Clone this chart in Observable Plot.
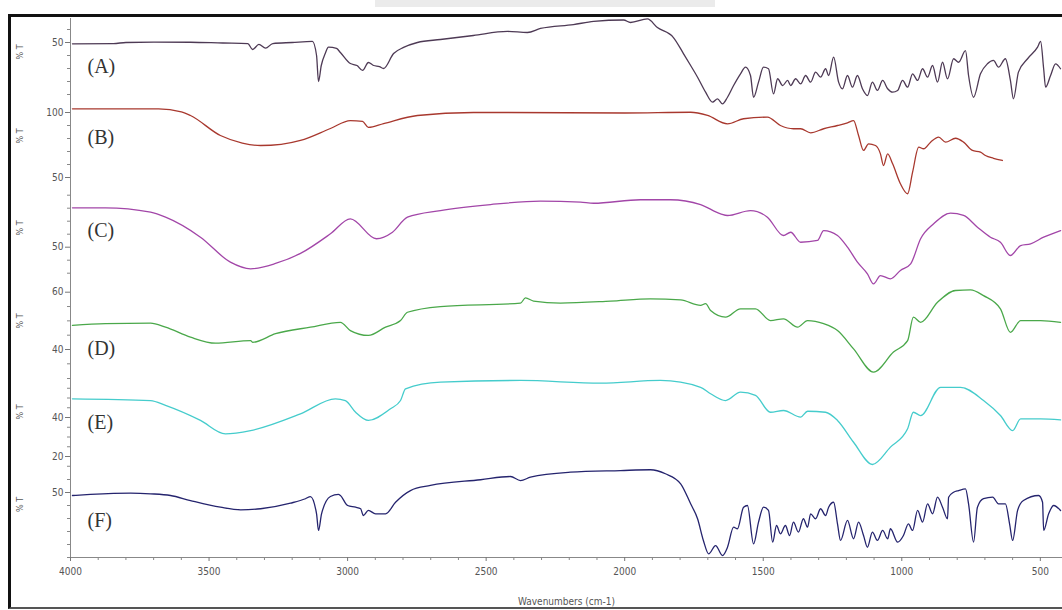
<!DOCTYPE html>
<html><head><meta charset="utf-8">
<script src="https://cdn.jsdelivr.net/npm/d3@7"></script>
<script src="https://cdn.jsdelivr.net/npm/@observablehq/plot@0.6"></script>
<style>
body{margin:0;background:#fff;}
#page{position:relative;width:1062px;height:610px;overflow:hidden;background:#fff;}
#frame{position:absolute;left:8px;top:14px;width:1080px;height:595px;border:3px solid #111;border-bottom:2px solid #555;box-sizing:border-box;}
#strip{position:absolute;left:375px;top:0;width:340px;height:7px;background:#ebebeb;}
.panel{position:absolute;left:0;}
svg{overflow:visible;}
</style></head>
<body><div id="page"><div id="strip"></div><div id="frame"></div></div>
<script>
// ---- data: wavenumber (cm-1) and %T per spectrum ----
const waveA = [3993,3845,3800,3700,3567,3450,3360,3343,3320,3296,3270,3200,3127,3112,3105,3095,3080,3069,3040,3026,2990,2966,2946,2925,2906,2885,2870,2834,2798,2748,2665,2546,2423,2351,2304,2185,2112,2004,1979,1918,1882,1824,1788,
  1762,1737,1708,1683,1665,1647,1629,1607,1582,1564,1546,1535,1517,1499,1481,1463,1448,1430,1412,1401,1383,1365,1347,1329,1311,1293,1275,1264,1246,1228,1214,1196,1178,1160,1142,1124,1106,1088,1069,1051,1033,1015,997,979,961,943,925,907,889,871,853,835,813,795,770,759,741,716,691,669,651,626,608,597,579,546,510,499,488,481,463,445,427];
const pctA = [49.0,49.2,50,50.3,50.2,49.6,49.2,44.6,48.5,45.6,49.2,50,50.8,40,20,32.3,42,46.4,45.4,42.3,33.8,32.3,28.5,34.6,32.3,31.5,30,41.5,46.2,50,52.3,55.4,58.5,57.7,60.8,63.8,66.2,67.3,65.4,68.1,61.5,53.8,41.5,
  32.3,23.3,11.8,4.1,6.7,2.8,7.9,16.9,25.9,31,24.6,7.9,19.5,31,29.8,10.5,22.1,16.9,20.8,16.9,22.1,18.2,24.6,19.5,27.2,23.3,29.8,24.6,38.7,19.5,14.4,24.6,15.6,24.6,14.4,9.2,19.5,13.1,20.8,14.4,11.8,13.1,20.8,15.6,25.9,20.8,29.8,23.3,32.3,19.5,34.8,22.1,37.5,34.8,43.8,24.6,7.9,25.9,33.6,36.2,31,37.5,20.8,6.7,27.2,37.5,46.4,50.8,29.8,15.6,24.6,33.6,29.8];

const waveB = [3993,3682,3600,3567,3459,3380,3314,3240,3170,3062,2990,2946,2925,2870,2748,2546,2423,2000,1762,1701,1629,1571,1485,1438,1391,1365,1329,1282,1232,1196,1174,1156,1138,1120,1095,1077,1066,1051,1033,1005,979,961,939,921,896,867,842,806,777,745,716,698,669,637];
const pctB = [102.8,102.8,100.5,97.7,82.3,76.5,74.6,75.5,78.5,87.7,93.8,93.1,88.5,91.5,97.7,100,100,99.6,100.2,97.7,91.3,95.2,96.4,90,87.5,87.5,84.4,87.5,90,92.1,93.8,82.3,70.8,75.9,74.6,68.2,59.2,68.2,60.5,45.2,37.5,54.1,73.3,72.1,77.2,81,77.2,80.2,77.2,70.8,69.5,66.9,64.8,63.1];

const waveC = [3993,3874,3711,3657,3531,3423,3350,3260,3170,3062,2990,2896,2838,2784,2665,2484,2304,2159,2112,1943,1835,1726,1654,1629,1546,1485,1427,1401,1365,1304,1282,1232,1196,1160,1124,1102,1077,1041,1005,968,932,885,824,777,727,680,644,608,571,535,488,427];
const pctC = [80.3,80.3,76.9,73.1,57.7,38.5,33.4,37.5,45.2,60.3,71.8,56.5,61.5,73.1,78.2,82.8,85.4,84.6,83.8,86.5,86.5,82.8,75.7,74.4,78.2,73.1,59,61.5,53.8,55.2,62.8,59,50,38.5,29.5,21.8,28.2,25.7,32.1,37.2,56.5,68,76.2,74.4,65.4,57.7,53.8,43.6,51.3,52.6,57.7,62.8];

const waveD = [3993,3874,3711,3657,3567,3477,3350,3343,3260,3134,3026,2990,2925,2863,2809,2784,2665,2376,2358,2329,2232,2051,1907,1798,1726,1708,1690,1636,1582,1528,1474,1427,1376,1340,1282,1232,1174,1102,1030,979,958,932,871,806,752,705,644,608,571,499,427];
const pctD = [48.4,49.0,49.2,47.8,44.3,42.2,43.1,42.5,45.5,47.8,49.5,46.6,44.9,47.8,50.1,53.0,55.0,56.2,58.0,56.9,56.2,56.9,57.7,57.3,55.4,56.0,53.6,51.3,54.2,54.2,50.1,50.7,47.8,50.1,49.0,46.6,40.2,32.1,39.1,43.1,51.3,49.5,56.5,60.6,60.8,58.8,54.2,46.0,50.1,50.1,49.5];

const waveE = [3993,3711,3657,3531,3441,3350,3170,3044,3008,2971,2925,2845,2809,2791,2665,2376,2087,1871,1726,1690,1636,1582,1528,1474,1427,1365,1340,1275,1232,1174,1106,1041,979,958,932,860,788,705,644,600,571,499,427];
const pctE = [49.6,48.7,46.2,38.5,31.6,33.3,41.9,49.6,48.7,42.7,38.5,44.5,48.7,54.7,58.1,59.0,57.6,59.0,55.5,52.2,48.7,53.0,51.3,42.7,43.6,40.2,43.2,42.7,38.5,27.3,15.9,24.8,34.2,42.7,41.0,55.5,55.5,48.7,41.0,33.3,39.3,39.3,38.8];

const waveF = [3993,3928,3783,3711,3639,3567,3459,3386,3314,3206,3152,3134,3112,3105,3094,3062,3033,3026,3000,2971,2953,2943,2925,2899,2863,2827,2773,2701,2520,2412,2376,2340,2196,2015,1907,1853,1798,
  1762,1737,1716,1697,1672,1647,1629,1607,1593,1571,1557,1535,1517,1499,1481,1466,1452,1438,1420,1405,1391,1373,1355,1340,1329,1311,1293,1275,1264,1246,1232,1221,1196,1174,1156,1138,1124,1106,1088,1069,1051,1041,1015,994,976,961,943,925,907,889,871,853,835,831,813,795,770,759,741,727,705,672,651,626,611,600,582,561,506,492,488,470,452,427];
const pctF = [47.7,48.5,49.5,49.0,47.7,43.8,38.7,36.7,37.5,41.8,45.2,46.9,33.6,20.8,33.6,46.9,48.5,47.7,40,38.7,37.5,32.3,36.2,33.6,33.6,42.5,51.5,55.4,59.8,62.3,59.2,61.8,65.6,66.9,67.5,64.4,56.7,
  41.3,29.8,13.1,2.8,9.2,1.5,7.9,23.3,22.1,38.7,40,10.5,27.2,38.7,36.2,11.8,24.6,18.2,24.6,16.9,27.2,19.5,29.8,23.3,33.6,29.8,37.5,32.3,38.7,42.5,25.9,13.1,28.5,14.4,27.2,16.9,7.9,19.5,13.1,20.8,14.4,22.1,11.8,16.9,25.9,20.8,36.2,27.2,41.3,33.6,46.4,38.7,29.8,46.4,50.2,51.5,52.8,41.3,11.8,38.7,45.2,46.4,41.3,41.3,25.9,13.1,36.2,43.8,47.7,42.5,20.8,33.6,40,36.2];

const seriesNames = ["A","B","C","D","E","F"];
const seriesWaves = [waveA,waveB,waveC,waveD,waveE,waveF];
const seriesPct = [pctA,pctB,pctC,pctD,pctE,pctF];
const majorTicks = [[50],[50,100],[50],[40,60],[20,40],[50]];
const xTicks = [4000,3500,3000,2500,2000,1500,1000,500];
const yLabel = "% T";
const xLabel = "Wavenumbers (cm-1)";

// ---- layout (pixels) and styles ----
const layout = [
  {top:18, bottom:100, refTick:50, refPx:42, ppu:1.3, minorStep:10, color:"#4e3a55", labelDy:48},
  {top:100, bottom:186, refTick:100, refPx:112, ppu:1.3, minorStep:10, color:"#a8382e", labelDy:37},
  {top:186, bottom:284, refTick:50, refPx:246.7, ppu:1.3, minorStep:10, color:"#a246a8", labelDy:44},
  {top:284, bottom:372, refTick:40, refPx:349, ppu:2.865, minorStep:5, color:"#4aa84a", labelDy:64},
  {top:372, bottom:466, refTick:20, refPx:456, ppu:1.95, minorStep:5, color:"#45cccc", labelDy:50},
  {top:466, bottom:557, refTick:50, refPx:492, ppu:1.3, minorStep:10, color:"#25246e", labelDy:54}
];
const sansFont = "'Liberation Sans Narrow','DejaVu Sans Condensed',sans-serif";
const page = document.getElementById("page");

layout.forEach((L, i) => {
  const data = seriesWaves[i].map((w, j) => ({w, t: seriesPct[i][j]}));
  const h = L.bottom - L.top;
  const yDomain = [L.refTick - (L.bottom - L.refPx) / L.ppu, L.refTick + (L.refPx - L.top) / L.ppu];
  const minor = d3.range(Math.ceil(yDomain[0] / L.minorStep) * L.minorStep, yDomain[1], L.minorStep)
    .filter(v => !majorTicks[i].includes(v));
  const last = i === layout.length - 1;
  const marks = [
    Plot.axisY({ticks: majorTicks[i], tickSize: 5, tickPadding: 2, label: null, stroke: "#777", fill: "#555", fontSize: 10, fontFamily: sansFont}),
    Plot.axisY({ticks: minor, tickSize: 3, tickFormat: () => "", label: null, stroke: "#888"}),
    Plot.frame({anchor: "left", stroke: "#888"}),
    Plot.line(data, {x: "w", y: "t", stroke: L.color, strokeWidth: 1.3, curve: "monotone-x"}),
    Plot.text([yLabel], {frameAnchor: "left", dx: -50, rotate: -90, fontSize: 9, fill: "#555", fontFamily: sansFont}),
    Plot.text([`(${seriesNames[i]})`], {frameAnchor: "top-left", dx: 17, dy: L.labelDy, textAnchor: "start", lineAnchor: "middle", fontSize: 20, fill: "#333", fontFamily: "'Liberation Serif',serif"})
  ];
  if (last) {
    marks.push(
      Plot.frame({anchor: "bottom", stroke: "#888"}),
      Plot.axisX({ticks: xTicks, tickSize: 4, tickPadding: 6, tickFormat: d => String(d), label: null, stroke: "#777", fill: "#555", fontSize: 10, fontFamily: sansFont}),
      Plot.axisX({ticks: d3.range(500, 4000, 100).filter(v => v % 500), tickSize: 3, tickFormat: () => "", label: null, stroke: "#888"}),
      Plot.text([xLabel], {frameAnchor: "bottom", dy: 44, lineAnchor: "middle", fontSize: 10, fill: "#555", fontFamily: sansFont})
    );
  }
  const chart = Plot.plot({
    width: 1062, height: h + (last ? 50 : 0),
    marginLeft: 70, marginRight: 0, marginTop: 0, marginBottom: last ? 50 : 0,
    style: {overflow: "visible", background: "transparent"},
    x: last ? {domain: [4000, 420]} : {domain: [4000, 420], axis: null},
    y: {domain: yDomain},
    marks
  });
  chart.classList.add("panel");
  chart.style.top = L.top + "px";
  chart.style.position = "absolute";
  page.appendChild(chart);
});
</script>
</body></html>
